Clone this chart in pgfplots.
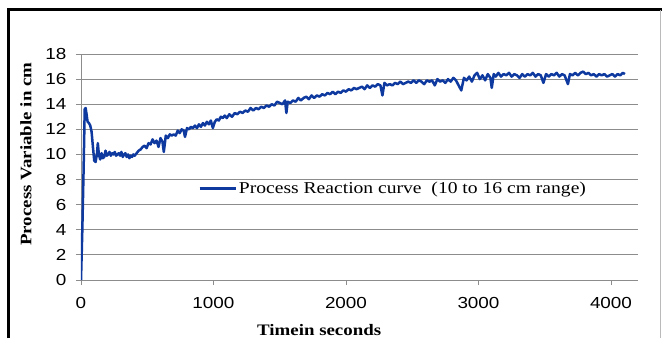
\documentclass[border=0pt]{standalone}
\usepackage{pgfplots}
\pgfplotsset{compat=1.18}
\usepackage{fontspec}
\setmainfont[FakeStretch=1.18]{Liberation Serif}
\newfontfamily\arial[FakeStretch=1.18]{Liberation Sans}
\definecolor{curve}{RGB}{14,58,160}
\definecolor{gridc}{RGB}{140,140,140}
\begin{document}
\begin{tikzpicture}
\useasboundingbox (0pt,0pt) rectangle (662pt,338pt);
\fill[white] (0pt,0pt) rectangle (662pt,338pt);
\draw[black, line width=3pt] (8.5pt,0pt) -- (8.5pt,328pt) -- (662pt,328pt);
\draw[gridc!60, line width=1pt] (660.5pt,328pt) -- (660.5pt,0pt);
\begin{axis}[
  at={(81pt,58pt)}, anchor=south west,
  scale only axis, width=556.5pt, height=226pt,
  xmin=0, xmax=4200, ymin=0, ymax=18,
  xtick={0,1000,2000,3000,4000},
  ytick={0,2,4,6,8,10,12,14,16,18},
  axis x line=bottom, axis y line=left,
  axis line style={gridc, line width=0.9pt, -},
  ymajorgrids, grid style={gridc, line width=1pt},
  tick style={gridc, line width=0.8pt},
  tick align=outside, major tick length=5pt,
  /pgf/number format/assume math mode=true,
  /pgf/number format/1000 sep={},
  tick label style={font=\arial\fontsize{16}{16}\selectfont},
  yticklabel style={xshift=-6pt},
  xticklabel style={yshift=-9pt},
  xlabel={Timein seconds},
  ylabel={Process Variable in cm},
  xlabel style={at={(axis description cs:0.428,-0.221)}, anchor=center, font=\bfseries\fontsize{16}{16}\selectfont},
  ylabel style={at={(axis description cs:-0.0988,0.557)}, anchor=center, font=\bfseries\fontsize{16}{16}\selectfont},
  legend style={at={(axis cs:862,7.3)}, anchor=west, draw=none, fill=none, font=\fontsize{16.6}{16.6}\selectfont},
  legend cell align=left,
  legend image code/.code={\draw[#1, line width=2.5pt] (0pt,0pt) -- (36pt,0pt);},
]
\addplot[curve, line width=2.5pt, line join=round] coordinates {
(0,0) (10,4) (20,9) (28,13.6) (35,13.7) (42,13.2) (50,12.6) (60,12.5) (70,12.3) (80,11.8)
(90,10.6) (100,9.5) (110,9.4) (120,10.0) (127,10.9) (135,10.0) (145,9.6) (155,10.1) (165,9.7) (175,9.8)
(185,10.3) (195,9.9) (205,10.0) (215,10.2) (225,9.9) (235,10.1) (245,10.0) (255,10.2) (265,9.9) (275,10.0)
(285,10.1) (295,9.9) (305,10.2) (315,9.8) (325,10.0) (335,10.1) (345,9.8) (355,10.0) (365,9.7) (375,9.9)
(385,9.8) (395,10.0) (405,9.9) (420,10.1) (435,10.3) (450,10.4) (465,10.6) (480,10.7) (495,10.5) (510,10.9)
(525,10.8) (540,11.2) (555,10.9) (570,11.1) (585,10.6) (600,11.3) (615,11.0) (625,10.2) (640,11.5) (655,11.3)
(670,11.6) (685,11.5) (700,11.6) (715,11.5) (730,11.9) (745,11.7) (760,12.0) (775,11.9) (785,11.4) (800,12.1)
(815,12.0) (830,12.2) (845,12.1) (860,12.3) (875,12.1) (890,12.4) (905,12.2) (920,12.5) (935,12.3) (950,12.6)
(965,12.4) (980,12.7) (995,12.1) (1010,12.6) (1025,12.8) (1040,12.7) (1055,13.0) (1070,12.9) (1085,13.1) (1100,12.9)
(1120,13.2) (1140,13.0) (1160,13.3) (1180,13.2) (1200,13.4) (1220,13.3) (1240,13.5) (1260,13.4) (1280,13.7) (1300,13.5)
(1320,13.7) (1340,13.6) (1360,13.8) (1380,13.7) (1400,13.9) (1420,13.8) (1440,14.0) (1460,13.9) (1480,14.2) (1500,14.1)
(1520,14.0) (1540,14.3) (1550,13.3) (1560,14.2) (1580,14.1) (1600,14.3) (1620,14.2) (1640,14.5) (1660,14.3) (1680,14.5)
(1700,14.6) (1720,14.4) (1740,14.7) (1760,14.5) (1780,14.7) (1800,14.6) (1820,14.8) (1840,14.7) (1860,14.9) (1880,14.8)
(1900,15.0) (1920,14.8) (1940,15.0) (1960,14.9) (1980,15.1) (2000,15.0) (2020,15.2) (2040,15.1) (2060,15.3) (2080,15.2)
(2100,15.3) (2120,15.4) (2140,15.2) (2160,15.5) (2180,15.3) (2200,15.5) (2220,15.4) (2240,15.6) (2260,15.5) (2275,14.7)
(2290,15.7) (2310,15.5) (2330,15.6) (2350,15.5) (2370,15.7) (2390,15.6) (2410,15.8) (2430,15.6) (2450,15.7) (2470,15.8)
(2490,15.7) (2510,15.9) (2530,15.7) (2550,15.9) (2570,15.8) (2590,15.6) (2610,15.9) (2630,15.8) (2650,15.9) (2670,15.5)
(2690,16.0) (2710,15.8) (2730,15.9) (2750,15.7) (2770,16.0) (2790,15.8) (2810,16.1) (2830,15.9) (2850,15.5) (2870,15.1)
(2890,16.1) (2910,15.9) (2930,16.2) (2950,15.8) (2970,16.3) (2990,16.5) (3010,16.0) (3030,16.3) (3050,15.9) (3070,16.4)
(3090,16.1) (3100,15.3) (3115,16.4) (3130,16.2) (3150,16.5) (3170,16.2) (3190,16.4) (3210,16.3) (3230,16.5) (3250,16.2)
(3270,16.4) (3290,16.3) (3310,16.1) (3330,16.4) (3350,16.2) (3370,16.4) (3390,16.3) (3410,16.5) (3430,16.2) (3450,16.4)
(3470,16.3) (3490,15.7) (3510,16.4) (3530,16.2) (3550,16.4) (3570,16.3) (3590,16.5) (3610,16.2) (3630,16.4) (3650,16.3)
(3675,15.6) (3690,16.4) (3710,16.3) (3730,16.5) (3750,16.3) (3770,16.5) (3790,16.6) (3810,16.4) (3830,16.5) (3850,16.3)
(3870,16.4) (3890,16.2) (3910,16.4) (3930,16.3) (3950,16.4) (3970,16.2) (3990,16.3) (4010,16.4) (4030,16.2) (4050,16.4)
(4070,16.3) (4090,16.5) (4105,16.4)
};
\addlegendentry{Process Reaction curve\ \ (10 to 16 cm range)}
\end{axis}
\end{tikzpicture}
\end{document}
